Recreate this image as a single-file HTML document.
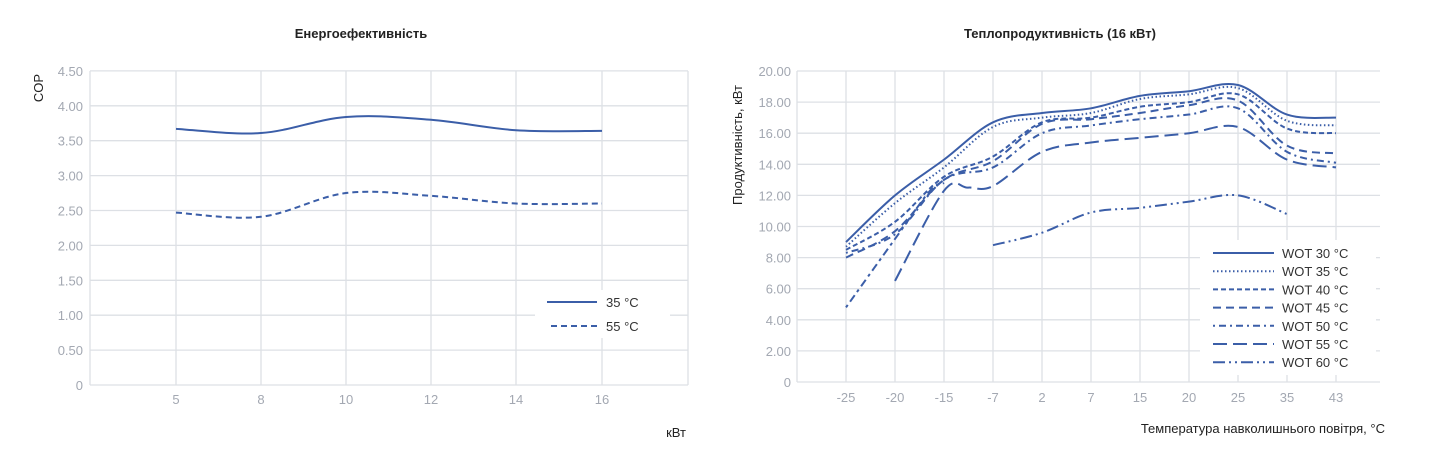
<!DOCTYPE html>
<html><head><meta charset="utf-8"><style>
html,body{margin:0;padding:0;background:#fff;}
svg{display:block;font-family:"Liberation Sans",sans-serif;}
.t{fill:#a3a8b2;font-size:13px;}
.g{stroke:#dde0e5;stroke-width:1.3;fill:none;}
.s{stroke:#3b5ea8;fill:none;stroke-width:2;}
.l{fill:#333;font-size:13px;}
</style></head><body>
<svg id="c" width="1440" height="461" viewBox="0 0 1440 461">
<text x="361" y="38" text-anchor="middle" font-size="13" font-weight="bold" fill="#222">Енергоефективність</text>
<text x="1060" y="38" text-anchor="middle" font-size="13" font-weight="bold" fill="#222">Теплопродуктивність (16 кВт)</text>
<text transform="translate(43,88) rotate(-90)" text-anchor="middle" font-size="13" fill="#222">COP</text>
<text transform="translate(742,145) rotate(-90)" text-anchor="middle" font-size="13" fill="#222">Продуктивність, кВт</text>
<text x="686" y="437" text-anchor="end" font-size="13" fill="#222">кВт</text>
<text x="1385" y="433" text-anchor="end" font-size="13" fill="#222">Температура навколишнього повітря, °C</text>
<g id="L"></g><g id="R"></g>
</svg>
<script>
var NS="http://www.w3.org/2000/svg";
function el(p,n,a,txt){var e=document.createElementNS(NS,n);for(var k in a)e.setAttribute(k,a[k]);if(txt!==undefined)e.textContent=txt;p.appendChild(e);return e;}
function smooth(pts){var d="M"+pts[0][0]+","+pts[0][1];for(var i=0;i<pts.length-1;i++){var p0=pts[i-1]||pts[i],p1=pts[i],p2=pts[i+1],p3=pts[i+2]||p2;var t=0.17;
d+=" C"+(p1[0]+(p2[0]-p0[0])*t)+","+(p1[1]+(p2[1]-p0[1])*t)+" "+(p2[0]-(p3[0]-p1[0])*t)+","+(p2[1]-(p3[1]-p1[1])*t)+" "+p2[0]+","+p2[1];}return d;}
// Left chart
var L=document.getElementById("L");
var lx=[176,261,346,431,516,602];var ly=function(v){return 385-v*69.8;};
for(var i=0;i<=9;i++){var v=i*0.5;el(L,"line",{x1:90,x2:688,y1:ly(v),y2:ly(v),"class":"g"});el(L,"text",{x:83,y:ly(v)+5,"text-anchor":"end","class":"t"},i==0?"0":v.toFixed(2));}
el(L,"line",{x1:90,x2:90,y1:71,y2:385,"class":"g"});el(L,"line",{x1:688,x2:688,y1:71,y2:385,"class":"g"});
var lab=["5","8","10","12","14","16"];
lx.forEach(function(x,i){el(L,"line",{x1:x,x2:x,y1:71,y2:385,"class":"g"});el(L,"text",{x:x,y:404,"text-anchor":"middle","class":"t"},lab[i]);});
var a=[3.67,3.61,3.84,3.80,3.65,3.64],b=[2.47,2.41,2.75,2.71,2.60,2.60];
el(L,"path",{d:smooth(lx.map(function(x,i){return[x,ly(a[i])];})),"class":"s"});
el(L,"path",{d:smooth(lx.map(function(x,i){return[x,ly(b[i])];})),"class":"s","stroke-dasharray":"6,4"});
el(L,"rect",{x:535,y:290,width:135,height:48,fill:"#fff"});
el(L,"line",{x1:547,x2:597,y1:302,y2:302,"class":"s"});
el(L,"line",{x1:551,x2:597,y1:326,y2:326,"class":"s","stroke-dasharray":"6,4"});
el(L,"text",{x:606,y:307,"class":"l"},"35 °C");el(L,"text",{x:606,y:331,"class":"l"},"55 °C");
// Right chart
var R=document.getElementById("R");
var rx=[846,895,944,993,1042,1091,1140,1189,1238,1287,1336];var ry=function(v){return 382-v*15.55;};
for(var i=0;i<=10;i++){var v=i*2;el(R,"line",{x1:797,x2:1380,y1:ry(v),y2:ry(v),"class":"g"});el(R,"text",{x:791,y:ry(v)+5,"text-anchor":"end","class":"t"},i==0?"0":v.toFixed(2));}
el(R,"line",{x1:797,x2:797,y1:71,y2:382,"class":"g"});
var rl=["-25","-20","-15","-7","2","7","15","20","25","35","43"];
rx.forEach(function(x,i){el(R,"line",{x1:x,x2:x,y1:71,y2:382,"class":"g"});el(R,"text",{x:x,y:402,"text-anchor":"middle","class":"t"},rl[i]);});
var S=[
[[9.0,12,14.3,16.7,17.3,17.6,18.4,18.7,19.1,17.2,17.0],null],
[[8.7,11.5,13.8,16.4,17.0,17.3,18.2,18.5,18.9,16.8,16.5],"1.5,2.5"],
[[8.5,10.3,13.2,14.5,16.7,17.0,17.7,18.0,18.5,16.3,16.0],"5,3"],
[[8.0,9.7,13.0,14.2,16.6,16.9,17.3,17.8,18.1,15.2,14.7],"8,5"],
[[8.3,9.5,13.0,13.8,16.0,16.5,16.9,17.2,17.6,14.8,14.1],"2,4,7,4"]
];
S.forEach(function(s){el(R,"path",{d:smooth(s[0].map(function(v,i){return[rx[i],ry(v)];})),"class":"s","stroke-dasharray":s[1]||"none"});});
// WOT55 from -20
var w55=[[895,ry(6.5)],[944,ry(12.3)],[968,ry(12.5)],[993,ry(12.6)],[1042,ry(14.8)],[1091,ry(15.4)],[1140,ry(15.7)],[1189,ry(16.0)],[1238,ry(16.4)],[1287,ry(14.3)],[1336,ry(13.8)]];
el(R,"path",{d:smooth(w55),"class":"s","stroke-dasharray":"14,6"});
// low dash-dot from -25
el(R,"path",{d:smooth([[846,ry(4.8)],[895,ry(9.2)],[930,ry(12.3)],[944,ry(12.8)]]),"class":"s","stroke-dasharray":"3,4,8,4"});
// WOT60
var w60=[[993,ry(8.8)],[1042,ry(9.6)],[1091,ry(10.9)],[1140,ry(11.2)],[1189,ry(11.6)],[1238,ry(12.0)],[1287,ry(10.8)]];
el(R,"path",{d:smooth(w60),"class":"s","stroke-dasharray":"12,4,2,4,2,4"});
el(R,"rect",{x:1200,y:240,width:176,height:135,fill:"#fff"});
var ld=[null,"1.5,2.5","5,3","8,5","2,4,7,4","14,6","12,4,2,4,2,4"];
for(var i=0;i<7;i++){var y=253+i*18.2;el(R,"line",{x1:1213,x2:1274,y1:y,y2:y,"class":"s","stroke-dasharray":ld[i]||"none"});el(R,"text",{x:1282,y:y+5,"class":"l"},"WOT "+(30+5*i)+" °C");}
</script>
</body></html>
